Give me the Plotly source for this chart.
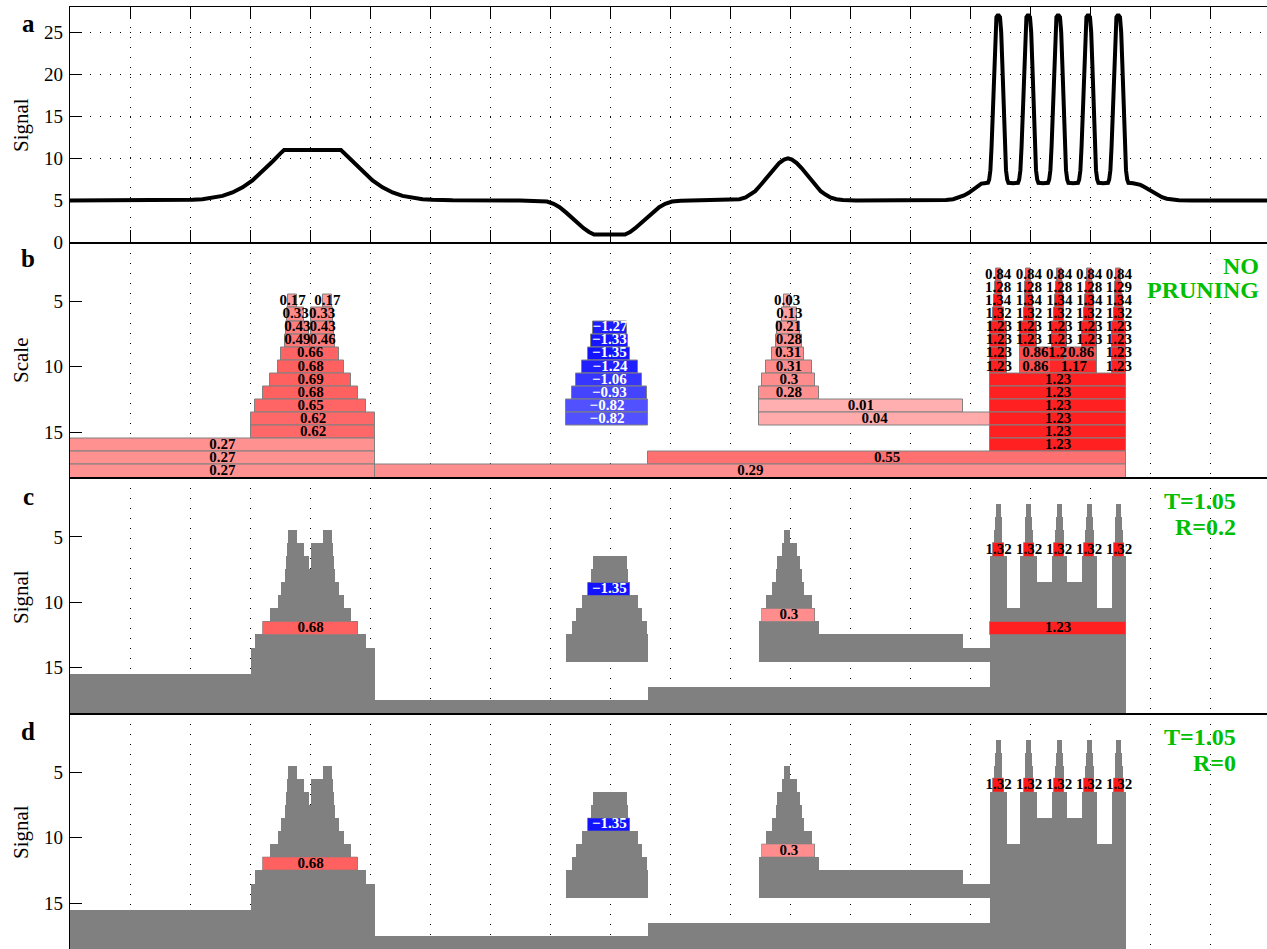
import plotly.graph_objects as go

# ---------------- data ----------------
# panel a: signal (x in samples, grid every 50)
signal_x = [0, 60, 85.4, 94, 102.1, 110.4, 118.8, 127.1, 135.4, 143.8, 152.1, 160.4, 168.8, 175.4, 178.4,
            225.8, 228.8, 235.4, 243.8, 252.1, 260.4, 268.8, 277.1, 285.4, 293.8, 302.1, 310, 318.8,
            375, 390, 397.5, 403, 408, 413.5, 419, 423.5, 428, 432.5, 436.7,
            462.5, 466.7, 471, 475.5, 480, 485.5, 491, 496, 501.7, 509, 525,
            552.5, 558, 563, 567, 571, 575, 579, 583, 587, 591, 595, 598.3,
            601.6, 605.6, 609.6, 613.6, 617.6, 621.6, 625.6, 629.6, 633.6, 638.6, 644, 655,
            700, 720, 730, 736, 741, 745, 749, 753, 756.5, 759.5, 762,
            765, 766, 767, 768, 769, 770, 771, 772, 773, 774, 775, 776, 777, 778, 779, 780, 781, 782, 786,
            790, 791, 792, 793, 794, 795, 796, 797, 798, 799, 800, 801, 802, 803, 804, 805, 806, 807, 811,
            815, 816, 817, 818, 819, 820, 821, 822, 823, 824, 825, 826, 827, 828, 829, 830, 831, 832, 836,
            840, 841, 842, 843, 844, 845, 846, 847, 848, 849, 850, 851, 852, 853, 854, 855, 856, 857, 861,
            865, 866, 867, 868, 869, 870, 871, 872, 873, 874, 875, 876, 877, 878, 879, 880, 881, 882,
            886, 889, 892, 895, 898, 901, 904, 907, 910, 914, 918, 924, 935, 997.5]
signal_y = [5, 5, 5.01, 5.03, 5.07, 5.15, 5.29, 5.54, 5.95, 6.56, 7.39, 8.44, 9.63, 10.6, 11,
            11, 10.6, 9.63, 8.44, 7.39, 6.56, 5.95, 5.54, 5.29, 5.15, 5.07, 5.03, 5.01,
            5.0, 4.97, 4.87, 4.6, 4.2, 3.55, 2.8, 2.25, 1.7, 1.25, 0.95,
            0.95, 1.25, 1.7, 2.25, 2.8, 3.55, 4.2, 4.6, 4.87, 4.97, 5.0,
            5.05, 5.15, 5.35, 5.7, 6.1, 6.75, 7.45, 8.15, 8.85, 9.45, 9.85, 10,
            9.85, 9.45, 8.85, 8.15, 7.45, 6.75, 6.1, 5.7, 5.35, 5.15, 5.05, 5.0,
            5.0, 5.02, 5.06, 5.15, 5.35, 5.6, 5.9, 6.3, 6.7, 7.0, 7.05,
            7.1, 7.5, 8.6, 11.5, 16, 21, 25, 26.8, 27, 27, 26.8, 25, 21, 16, 11.5, 8.6, 7.5, 7.1, 7.05,
            7.1, 7.5, 8.6, 11.5, 16, 21, 25, 26.8, 27, 27, 26.8, 25, 21, 16, 11.5, 8.6, 7.5, 7.1, 7.05,
            7.1, 7.5, 8.6, 11.5, 16, 21, 25, 26.8, 27, 27, 26.8, 25, 21, 16, 11.5, 8.6, 7.5, 7.1, 7.05,
            7.1, 7.5, 8.6, 11.5, 16, 21, 25, 26.8, 27, 27, 26.8, 25, 21, 16, 11.5, 8.6, 7.5, 7.1, 7.05,
            7.1, 7.5, 8.6, 11.5, 16, 21, 25, 26.8, 27, 27, 26.8, 25, 21, 16, 11.5, 8.6, 7.5, 7.1,
            7.05, 7.0, 6.85, 6.62, 6.35, 6.07, 5.8, 5.57, 5.38, 5.2, 5.1, 5.03, 5.0, 5.0]

# panel b: scale-space tree nodes (scale row, start sample, end sample, value)
tree1_scale = [5, 5, 6, 6, 7, 7, 8, 8, 9, 10, 11, 12, 13, 14, 15, 16, 17, 18]
tree1_start = [182, 211, 181, 201, 180, 201, 179, 200, 176, 173, 167, 161, 154, 151, 151, 0, 0, 0]
tree1_end = [189, 218, 195, 219, 199, 220, 200, 221, 224, 228, 234, 240, 247, 254, 254, 254, 254, 254]
tree1_value = [0.17, 0.17, 0.33, 0.33, 0.43, 0.43, 0.49, 0.46, 0.66, 0.68, 0.69, 0.68, 0.65, 0.62, 0.62,
               0.27, 0.27, 0.27]

tree2_scale = [7, 8, 9, 10, 11, 12, 13, 14]
tree2_start = [436, 434, 432, 427, 422, 418, 413, 413]
tree2_end = [464, 465, 467, 473, 477, 481, 482, 482]
tree2_value = [-1.27, -1.33, -1.35, -1.24, -1.06, -0.93, -0.82, -0.82]

tree3_scale = [5, 6, 7, 8, 9, 10, 11, 12, 13, 14]
tree3_start = [595, 593, 589, 588, 585, 580, 577, 574, 574, 574]
tree3_end = [600, 606, 608, 610, 612, 618, 621, 624, 744, 767]
tree3_value = [0.03, 0.13, 0.21, 0.28, 0.31, 0.31, 0.3, 0.28, 0.01, 0.04]

tree4_scale = [3, 3, 3, 3, 3,
               4, 4, 4, 4, 4,
               5, 5, 5, 5, 5,
               6, 6, 6, 6, 6,
               7, 7, 7, 7, 7,
               8, 8, 8, 8, 8,
               9, 9, 9, 9, 9,
               10, 10, 10, 10,
               11, 12, 13, 14, 15, 16, 17, 18]
tree4_start = [771.5, 797, 822.3, 847.3, 872,
               770.7, 796.2, 821.5, 846.5, 871.2,
               770, 795.5, 821, 846, 870.5,
               769.5, 795, 820, 845, 870,
               767, 792, 818, 843, 868,
               767, 792, 818, 843, 868,
               767, 792, 817, 829, 868,
               767, 792, 817, 868,
               767, 767, 767, 767, 767, 767, 482, 254]
tree4_end = [775.5, 801, 826.3, 851.3, 876,
             776.3, 801.8, 827.1, 852.1, 876.8,
             777, 802.5, 828, 853, 877.5,
             778, 803.5, 828.5, 853.5, 878.5,
             781, 806, 831, 856, 880,
             781, 806, 831, 856, 880,
             781, 817, 829, 856, 880,
             781, 817, 856, 880,
             880, 880, 880, 880, 880, 880, 880, 880]
tree4_value = [0.84, 0.84, 0.84, 0.84, 0.84,
               1.28, 1.28, 1.28, 1.28, 1.29,
               1.34, 1.34, 1.34, 1.34, 1.34,
               1.32, 1.32, 1.32, 1.32, 1.32,
               1.23, 1.23, 1.23, 1.23, 1.23,
               1.23, 1.23, 1.23, 1.23, 1.23,
               1.23, 0.86, 1.2, 0.86, 1.23,
               1.23, 0.86, 1.17, 1.23,
               1.23, 1.23, 1.23, 1.23, 1.23, 1.23, 0.55, 0.29]

# panel c: nodes kept with T=1.05, R=0.2
selc_scale = [12, 9, 11, 6, 6, 6, 6, 6, 12]
selc_start = [161, 432, 577, 769.5, 795, 820, 845, 870, 767]
selc_end = [240, 467, 621, 778, 803.5, 828.5, 853.5, 878.5, 880]
selc_value = [0.68, -1.35, 0.3, 1.32, 1.32, 1.32, 1.32, 1.32, 1.23]

# panel d: nodes kept with T=1.05, R=0
seld_scale = [12, 9, 11, 6, 6, 6, 6, 6]
seld_start = [161, 432, 577, 769.5, 795, 820, 845, 870]
seld_end = [240, 467, 621, 778, 803.5, 828.5, 853.5, 878.5]
seld_value = [0.68, -1.35, 0.3, 1.32, 1.32, 1.32, 1.32, 1.32]

x_ticks = list(range(0, 1000, 50))
signal_ticks = [0, 5, 10, 15, 20, 25]
scale_ticks = [5, 10, 15]

# ---------------- helpers ----------------
SERIF = "Liberation Serif, Times New Roman, serif"
GRAY = "rgb(128,128,128)"
GREEN = "rgb(0,190,0)"

node_scale = tree1_scale + tree2_scale + tree3_scale + tree4_scale
node_start = tree1_start + tree2_start + tree3_start + tree4_start
node_end = tree1_end + tree2_end + tree3_end + tree4_end
node_value = tree1_value + tree2_value + tree3_value + tree4_value


def vcolor(v):
    g = int(round(176 - 116 * abs(v)))
    g = max(0, min(255, g))
    return f"rgb(255,{g},{g})" if v >= 0 else f"rgb({g},{g},255)"


def vlabel(v):
    return f"{v:g}".replace("-", "\u2212")


def bars(scale, start, end, colors, xa, ya, line_color=GRAY, line_width=1.0, thick=1.0):
    return go.Bar(orientation="h", y=scale, base=start,
                  x=[e - s for s, e in zip(start, end)], width=thick,
                  marker=dict(color=colors, line=dict(color=line_color, width=line_width)),
                  xaxis=xa, yaxis=ya, hoverinfo="skip", showlegend=False)


def labels(scale, start, end, values, xa, ya):
    return go.Scatter(x=[(s + e) / 2 for s, e in zip(start, end)], y=scale, mode="text",
                      text=[vlabel(v) for v in values],
                      textfont=dict(family=SERIF, size=15, weight="bold",
                                    color=["white" if v < 0 else "black" for v in values]),
                      textposition="middle center", cliponaxis=False,
                      xaxis=xa, yaxis=ya, hoverinfo="skip", showlegend=False)


fig = go.Figure()

# panel a
fig.add_trace(go.Scatter(x=signal_x, y=signal_y, mode="lines",
                         line=dict(color="black", width=4),
                         xaxis="x", yaxis="y", hoverinfo="skip", showlegend=False))

# panel b
fig.add_trace(bars(node_scale, node_start, node_end, [vcolor(v) for v in node_value], "x2", "y2"))
fig.add_trace(labels(node_scale, node_start, node_end, node_value, "x2", "y2"))

# panel c
fig.add_trace(bars(node_scale, node_start, node_end, [GRAY] * len(node_value), "x3", "y3", GRAY, 0, 1.08))
fig.add_trace(bars(selc_scale, selc_start, selc_end, [vcolor(v) for v in selc_value], "x3", "y3",
                   "rgba(128,128,128,0.6)", 1))
fig.add_trace(labels(selc_scale, selc_start, selc_end, selc_value, "x3", "y3"))

# panel d
fig.add_trace(bars(node_scale, node_start, node_end, [GRAY] * len(node_value), "x4", "y4", GRAY, 0, 1.08))
fig.add_trace(bars(seld_scale, seld_start, seld_end, [vcolor(v) for v in seld_value], "x4", "y4",
                   "rgba(128,128,128,0.6)", 1))
fig.add_trace(labels(seld_scale, seld_start, seld_end, seld_value, "x4", "y4"))

# ---------------- layout ----------------
W, H = 1267, 949
ML, MT = 70, 7
PH = H - MT

tickfont = dict(family=SERIF, size=19, color="black")
dotted = "1px,9px"


def xaxis_common(anchor, ticks, mirror):
    return dict(domain=[0, 1], anchor=anchor, range=[0, 997.5], tickvals=x_ticks,
                showticklabels=False, ticks=ticks, ticklen=12, tickwidth=1.3, tickcolor="black",
                showline=True, linecolor="black", linewidth=1.2, mirror=mirror, automargin=False,
                showgrid=True, gridcolor="black", gridwidth=1, griddash=dotted, zeroline=False)


def yaxis_common(anchor, domain, rng, tickvals, grid):
    return dict(domain=domain, anchor=anchor, range=rng, tickvals=tickvals,
                ticks="inside", ticklen=12, tickwidth=1.3, tickcolor="black", automargin=False,
                tickfont=tickfont, showline=True, linecolor="black", linewidth=1.2,
                showgrid=grid, gridcolor="black", gridwidth=1, griddash=dotted, zeroline=False,
                ticklabelstandoff=2)


def yaxis_right(over, anchor, domain, rng, tickvals):
    return dict(overlaying=over, side="right", anchor=anchor, domain=domain, range=rng,
                tickvals=tickvals, ticks="inside", ticklen=12, tickwidth=1.3, tickcolor="black",
                showticklabels=False, showline=False, showgrid=False, zeroline=False, automargin=False)


doms = [[0.75, 1.0], [0.5, 0.75], [0.25, 0.5], [0.0, 0.25]]
srange = [18.5, 0.5]

layout = dict(
    template="none",
    width=W, height=H, margin=dict(l=ML, r=0, t=MT, b=0, pad=0), autosize=False,
    paper_bgcolor="white", plot_bgcolor="white", barmode="overlay", bargap=0,
    xaxis=xaxis_common("y", "inside", "ticks"),
    xaxis2=dict(xaxis_common("y2", "", True), matches="x"),
    xaxis3=dict(xaxis_common("y3", "", True), matches="x"),
    xaxis4=dict(xaxis_common("y4", "", True), matches="x"),
    yaxis=yaxis_common("x", doms[0], [0, 28], signal_ticks, True),
    yaxis2=yaxis_common("x2", doms[1], srange, scale_ticks, False),
    yaxis3=yaxis_common("x3", doms[2], srange, scale_ticks, False),
    yaxis4=yaxis_common("x4", doms[3], srange, scale_ticks, False),
    yaxis5=yaxis_right("y", "x", doms[0], [0, 28], signal_ticks),
    yaxis6=yaxis_right("y2", "x2", doms[1], srange, scale_ticks),
    yaxis7=yaxis_right("y3", "x3", doms[2], srange, scale_ticks),
    yaxis8=yaxis_right("y4", "x4", doms[3], srange, scale_ticks),
)
fig.update_layout(**layout)


def px_x(px):
    return (px - ML) / (W - ML)


def px_y(py):
    return 1 - (py - MT) / PH


ann = []
for letter, py in zip(["a", "b", "c", "d"], [24, 259, 496, 731]):
    ann.append(dict(text=f"<b>{letter}</b>", x=px_x(28), y=px_y(py), xref="paper", yref="paper",
                    xanchor="center", yanchor="middle", showarrow=False,
                    font=dict(family=SERIF, size=25, color="black")))
for title, py in zip(["Signal", "Scale", "Signal", "Signal"], [125, 361, 597, 832]):
    ann.append(dict(text=title, x=px_x(21), y=px_y(py), xref="paper", yref="paper",
                    xanchor="center", yanchor="middle", textangle=-90, showarrow=False,
                    font=dict(family=SERIF, size=21, color="black")))
for txt, px, py in [("NO", 1261, 266), ("PRUNING", 1261, 290),
                    ("T=1.05", 1238, 501), ("R=0.2", 1238, 527),
                    ("T=1.05", 1238, 737), ("R=0", 1238, 763)]:
    ann.append(dict(text=f"<b>{txt}</b>", x=px_x(px), y=px_y(py), xref="paper", yref="paper",
                    xanchor="right", yanchor="middle", showarrow=False,
                    font=dict(family=SERIF, size=24, color=GREEN)))
fig.update_layout(annotations=ann)

fig.write_html("out.html", config={"displayModeBar": False})
